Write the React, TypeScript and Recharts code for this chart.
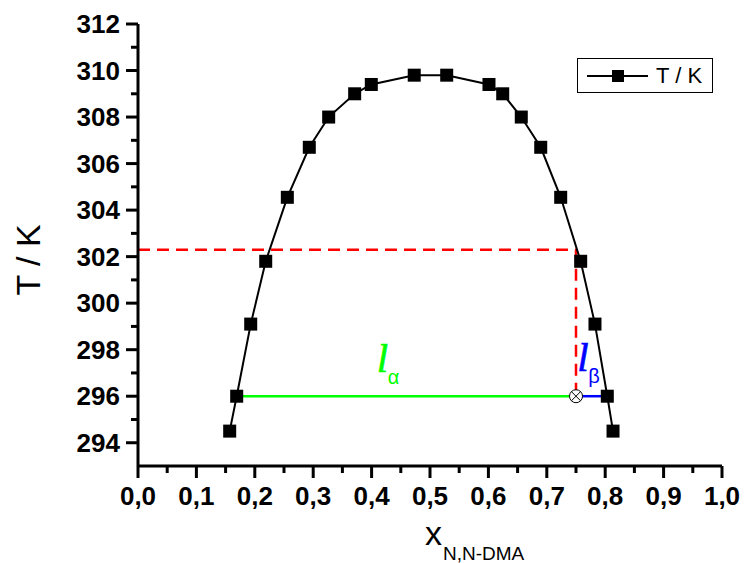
import React from 'react';
import { ComposedChart, Line, XAxis, YAxis, ReferenceLine, ReferenceDot, Legend, Label } from 'recharts';

// Binodal (phase boundary) data
const xValues = [0.157, 0.169, 0.193, 0.2187, 0.2557, 0.2933, 0.3265, 0.371, 0.3995, 0.473, 0.5286, 0.601, 0.6245, 0.6563, 0.6896, 0.7238, 0.758, 0.7825, 0.8036, 0.8134];
const tValues = [294.5, 296.0, 299.1, 301.8, 304.55, 306.7, 308.0, 309.0, 309.4, 309.8, 309.8, 309.4, 309.0, 308.0, 306.7, 304.55, 301.8, 299.1, 296.0, 294.5];

// Axis ticks
const xMajorTicks = [0, 0.1, 0.2, 0.3, 0.4, 0.5, 0.6, 0.7, 0.8, 0.9, 1.0];
const xMinorTicks = [0.05, 0.15, 0.25, 0.35, 0.45, 0.55, 0.65, 0.75, 0.85, 0.95];
const yMajorTicks = [294, 296, 298, 300, 302, 304, 306, 308, 310, 312];
const yMinorTicks = [295, 297, 299, 301, 303, 305, 307, 309, 311];

// Lever rule construction
const cloudPointT = 302.3;
const tieLineT = 296.0;
const mixPointX = 0.75;
const alphaX = 0.169;
const betaX = 0.8036;

// Annotation anchors (data coordinates)
const annotations = [
  { x: 0.409, y: 297.03, text: 'l', sub: 'α', color: '#00ff00' },
  { x: 0.752, y: 297.07, text: 'l', sub: 'β', color: '#0000ff' },
];

const data = xValues.map((x, i) => ({ x, t: tValues[i] }));
const xTicks = [...xMajorTicks, ...xMinorTicks].sort((a, b) => a - b);
const yTicks = [...yMajorTicks, ...yMinorTicks].sort((a, b) => a - b);

const FONT = '"Liberation Sans", Arial, sans-serif';

const isMajor = (v: number, arr: number[]) => arr.some((m) => Math.abs(m - v) < 1e-6);

const XTick = (props: any) => {
  const { x, y, payload } = props;
  const major = isMajor(payload.value, xMajorTicks);
  return (
    <g>
      <line x1={x} y1={y} x2={x} y2={y + (major ? 12 : 7)} stroke="#000" strokeWidth={3} />
      {major && (
        <text x={x} y={y + 38.5} textAnchor="middle" fontFamily={FONT} fontWeight="bold" fontSize={26} fill="#000">
          {payload.value.toFixed(1).replace('.', ',')}
        </text>
      )}
    </g>
  );
};

const YTick = (props: any) => {
  const { x, y, payload } = props;
  const major = isMajor(payload.value, yMajorTicks);
  return (
    <g>
      <line x1={x} y1={y} x2={x - (major ? 12 : 7)} y2={y} stroke="#000" strokeWidth={3} />
      {major && (
        <text x={x - 18} y={y} dy={9} textAnchor="end" fontFamily={FONT} fontWeight="bold" fontSize={26} fill="#000">
          {payload.value}
        </text>
      )}
    </g>
  );
};

const SquareDot = (props: any) => {
  const { cx, cy, index } = props;
  if (cx == null || cy == null) return null;
  return <rect key={index} x={cx - 6.5} y={cy - 6.5} width={13} height={13} fill="#000" />;
};

const CrossCircle = (props: any) => {
  const { cx, cy } = props;
  const r = 6.5;
  const d = r * 0.707;
  return (
    <g>
      <circle cx={cx} cy={cy} r={r} fill="#fff" stroke="#000" strokeWidth={1} />
      <line x1={cx - d} y1={cy - d} x2={cx + d} y2={cy + d} stroke="#000" strokeWidth={1} />
      <line x1={cx - d} y1={cy + d} x2={cx + d} y2={cy - d} stroke="#000" strokeWidth={1} />
    </g>
  );
};

const makeAnnotation = (a: { text: string; sub: string; color: string }) => (props: any) => {
  const { cx, cy } = props;
  return (
    <g>
      <text
        x={cx}
        y={cy}
        fontFamily='"Liberation Serif", "Times New Roman", serif'
        fontStyle="italic"
        fontSize={41}
        fill={a.color}
        stroke={a.color}
        strokeWidth={0.6}
      >
        {a.text}
      </text>
      <text x={cx + 11} y={cy + 12} fontFamily={FONT} fontSize={20} fill={a.color}>
        {a.sub}
      </text>
    </g>
  );
};

const LegendBox = () => (
  <div
    style={{
      width: 136,
      height: 35,
      border: '1.5px solid #000',
      boxSizing: 'border-box',
      background: '#fff',
      display: 'flex',
      alignItems: 'center',
    }}
  >
    <svg width={70} height={32} style={{ display: 'block' }}>
      <line x1={9} y1={16} x2={71} y2={16} stroke="#000" strokeWidth={2} />
      <rect x={34} y={10} width={12} height={12} fill="#000" />
    </svg>
    <span style={{ fontFamily: FONT, fontSize: 22, color: '#000', marginLeft: 8, lineHeight: '32px' }}>T / K</span>
  </div>
);

export default function App() {
  return (
    <ComposedChart
      width={743}
      height={555}
      data={data}
      margin={{ top: 16, right: 29, bottom: 20, left: 20 }}
    >
      <XAxis
        dataKey="x"
        type="number"
        domain={[0, 1]}
        ticks={xTicks}
        interval={0}
        height={77}
        tickSize={0}
        tickMargin={0}
        tickLine={false}
        tick={<XTick />}
        axisLine={{ stroke: '#000', strokeWidth: 3 }}
        allowDataOverflow
      >
        <Label
          content={() => (
            <text x={417} y={537} fontFamily={FONT} fontSize={34} fill="#000">
              x
              <tspan dx={1} dy={15} fontSize={19}>N,N-DMA</tspan>
            </text>
          )}
        />
      </XAxis>
      <YAxis
        type="number"
        domain={[293, 312]}
        ticks={yTicks}
        interval={0}
        width={110}
        tickSize={0}
        tickMargin={0}
        tickLine={false}
        tick={<YTick />}
        axisLine={{ stroke: '#000', strokeWidth: 3 }}
        allowDataOverflow
      >
        <Label
          content={() => (
            <text
              x={20}
              y={252}
              transform="rotate(-90 20 252)"
              textAnchor="middle"
              dominantBaseline="central"
              fontFamily={FONT}
              fontSize={34}
              fill="#000"
            >
              T / K
            </text>
          )}
        />
      </YAxis>
      <ReferenceLine
        segment={[{ x: 0, y: cloudPointT }, { x: mixPointX, y: cloudPointT }]}
        stroke="#ff0000"
        strokeWidth={2.5}
        strokeDasharray="12 7"
        ifOverflow="visible"
      />
      <ReferenceLine
        segment={[{ x: mixPointX, y: cloudPointT }, { x: mixPointX, y: tieLineT }]}
        stroke="#ff0000"
        strokeWidth={2.5}
        strokeDasharray="12 7"
        ifOverflow="visible"
      />
      <ReferenceLine
        segment={[{ x: alphaX, y: tieLineT }, { x: mixPointX, y: tieLineT }]}
        stroke="#00ff00"
        strokeWidth={2.5}
        ifOverflow="visible"
      />
      <ReferenceLine
        segment={[{ x: mixPointX, y: tieLineT }, { x: betaX, y: tieLineT }]}
        stroke="#0000ff"
        strokeWidth={2.5}
        ifOverflow="visible"
      />
      <Line
        dataKey="t"
        stroke="#000"
        strokeWidth={2}
        dot={<SquareDot />}
        activeDot={false}
        isAnimationActive={false}
        legendType="square"
        name="T / K"
      />
      <ReferenceDot x={mixPointX} y={tieLineT} r={6} shape={<CrossCircle />} ifOverflow="visible" />
      {annotations.map((a, i) => (
        <ReferenceDot key={i} x={a.x} y={a.y} r={1} shape={makeAnnotation(a)} ifOverflow="visible" />
      ))}
      <Legend
        layout="horizontal"
        verticalAlign="middle"
        align="center"
        wrapperStyle={{ position: 'absolute', top: 50, left: 569, width: 136, height: 35 }}
        content={() => <LegendBox />}
      />
    </ComposedChart>
  );
}
